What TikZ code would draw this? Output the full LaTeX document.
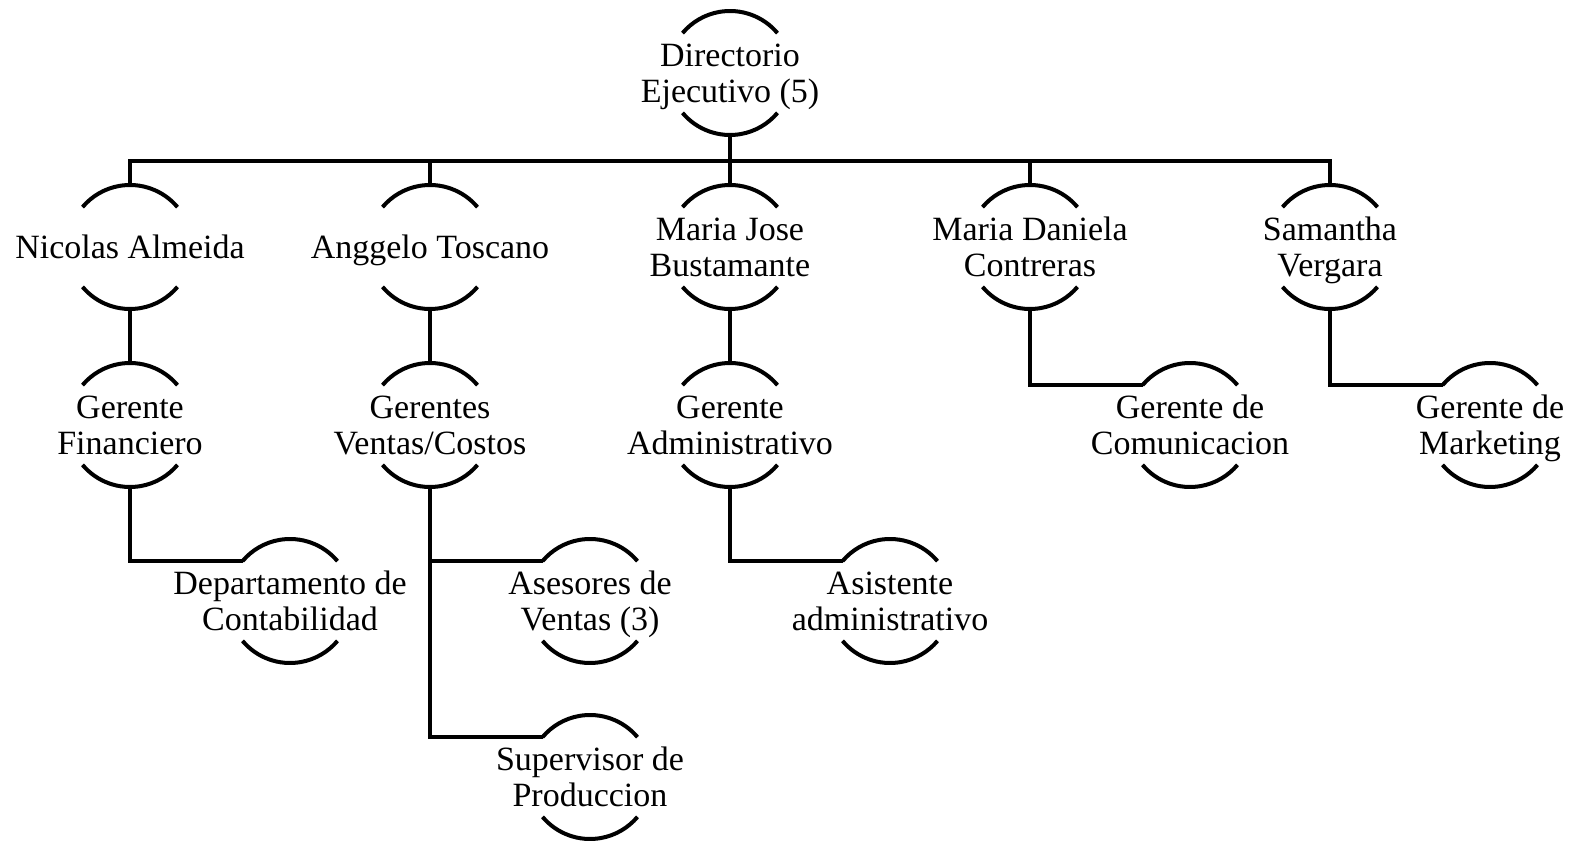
\documentclass[tikz,border=0pt]{standalone}
\usepackage{fontspec}
\setmainfont{Liberation Serif}
\tikzset{
  puesto/.style={circle, minimum size=62pt, inner sep=0pt, outer sep=0pt},
  texto/.style={align=center, inner sep=0pt, text depth=0pt, font=\fontsize{17}{18}\selectfont}
}
\begin{document}
\begin{tikzpicture}[x=0.5pt,y=0.5pt,line width=2pt]
    \useasboundingbox (0,0) rectangle (1575,842);
    \node[puesto, label={[texto]center:{Directorio\\Ejecutivo (5)}}] (dir) at (730,769) {};
    \node[puesto, label={[texto]center:{Nicolas Almeida}}] (nic) at (130,595) {};
    \node[puesto, label={[texto]center:{Anggelo Toscano}}] (ang) at (430,595) {};
    \node[puesto, label={[texto]center:{Maria Jose\\Bustamante}}] (mjo) at (730,595) {};
    \node[puesto, label={[texto]center:{Maria Daniela\\Contreras}}] (mda) at (1030,595) {};
    \node[puesto, label={[texto]center:{Samantha\\Vergara}}] (sam) at (1330,595) {};
    \node[puesto, label={[texto]center:{Gerente\\Financiero}}] (gfi) at (130,417) {};
    \node[puesto, label={[texto]center:{Gerentes\\Ventas/Costos}}] (gve) at (430,417) {};
    \node[puesto, label={[texto]center:{Gerente\\Administrativo}}] (gad) at (730,417) {};
    \node[puesto, label={[texto]center:{Gerente de\\Comunicacion}}] (gco) at (1190,417) {};
    \node[puesto, label={[texto]center:{Gerente de\\Marketing}}] (gma) at (1490,417) {};
    \node[puesto, label={[texto]center:{Departamento de\\Contabilidad}}] (dep) at (290,241) {};
    \node[puesto, label={[texto]center:{Asesores de\\Ventas (3)}}] (ase) at (590,241) {};
    \node[puesto, label={[texto]center:{Asistente\\administrativo}}] (asi) at (890,241) {};
    \node[puesto, label={[texto]center:{Supervisor de\\Produccion}}] (sup) at (590,65) {};
    % arcos de cada puesto
    \foreach \n in {dir,nic,ang,mjo,mda,sam,gfi,gve,gad,gco,gma,dep,ase,asi,sup}
      \draw (\n.40) arc (40:140:31pt) (\n.220) arc (220:320:31pt);
    % lineas
    \foreach \c in {nic,ang,mjo,mda,sam}
      \draw (dir.south) -- ++(0,-26) -| (\c.north);
    \foreach \a/\b in {nic/gfi,ang/gve,mjo/gad}
      \draw (\a) -- (\b);
    \foreach \a/\b in {gfi/dep,gve/ase,gve/sup,gad/asi,mda/gco,sam/gma}
      \draw (\a.south) |- (\b.140);
\end{tikzpicture}
\end{document}
